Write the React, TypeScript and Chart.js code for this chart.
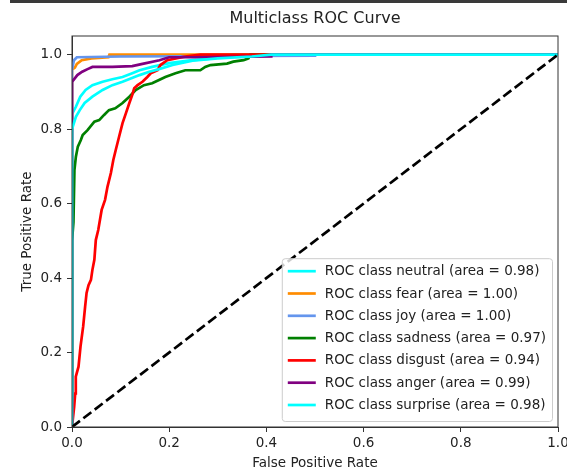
import React, { useEffect, useRef } from "react";
import { Chart, registerables } from "chart.js";

Chart.register(...registerables);

const FONT = '"DejaVu Sans", "Liberation Sans", sans-serif';

const chartTitle = "Multiclass ROC Curve";
const xAxisLabel = "False Positive Rate";
const yAxisLabel = "True Positive Rate";
const tickValues = [0, 0.2, 0.4, 0.6, 0.8, 1.0];

const classNames = ["neutral", "fear", "joy", "sadness", "disgust", "anger", "surprise"];
const classAreas = ["0.98", "1.00", "1.00", "0.97", "0.94", "0.99", "0.98"];
const classColors = ["#00FFFF", "#FF8C00", "#6495ED", "#008000", "#FF0000", "#800080", "#00FFFF"];

const neutralFpr = [0, 0, 0.008, 0.017, 0.028, 0.042, 0.063, 0.083, 0.104, 0.124, 0.139, 0.165, 0.2, 0.248, 0.29, 0.33, 1];
const neutralTpr = [0, 0.84, 0.86, 0.887, 0.905, 0.918, 0.927, 0.934, 0.94, 0.95, 0.958, 0.967, 0.977, 0.985, 0.99, 1.0, 1.0];

const fearFpr = [0, 0, 0.006, 0.01, 0.02, 0.04, 0.075, 0.077, 1];
const fearTpr = [0, 0.96, 0.965, 0.975, 0.985, 0.99, 0.993, 1.0, 1.0];

const joyFpr = [0, 0, 0.004, 0.01, 0.1, 0.5, 0.5, 1];
const joyTpr = [0, 0.96, 0.985, 0.993, 0.995, 0.997, 1.0, 1.0];

const sadnessFpr = [0, 0, 0.003, 0.005, 0.008, 0.012, 0.018, 0.022, 0.032, 0.046, 0.056, 0.066, 0.076, 0.089, 0.104, 0.118, 0.131, 0.148, 0.165, 0.179, 0.192, 0.213, 0.233, 0.264, 0.274, 0.285, 0.319, 0.332, 0.353, 0.363, 0.367, 1];
const sadnessTpr = [0, 0.5, 0.55, 0.69, 0.726, 0.753, 0.77, 0.784, 0.797, 0.82, 0.824, 0.838, 0.851, 0.856, 0.87, 0.887, 0.905, 0.918, 0.923, 0.932, 0.94, 0.95, 0.958, 0.958, 0.967, 0.972, 0.976, 0.981, 0.985, 0.99, 1.0, 1.0];

const disgustFpr = [0, 0.0045, 0.0066, 0.0078, 0.0134, 0.0175, 0.023, 0.027, 0.03, 0.034, 0.039, 0.042, 0.046, 0.049, 0.054, 0.061, 0.068, 0.073, 0.08, 0.085, 0.09, 0.097, 0.104, 0.111, 0.118, 0.124, 0.128, 0.135, 0.145, 0.155, 0.162, 0.176, 0.182, 0.196, 0.229, 0.264, 1];
const disgustTpr = [0, 0.055, 0.09, 0.135, 0.162, 0.216, 0.27, 0.323, 0.36, 0.381, 0.395, 0.422, 0.449, 0.502, 0.529, 0.583, 0.61, 0.645, 0.682, 0.717, 0.744, 0.78, 0.816, 0.843, 0.87, 0.892, 0.91, 0.918, 0.927, 0.94, 0.95, 0.958, 0.972, 0.985, 0.994, 1.0, 1.0];

const angerFpr = [0, 0, 0.011, 0.021, 0.032, 0.042, 0.083, 0.124, 0.145, 0.18, 0.2, 0.25, 0.41, 0.41, 1];
const angerTpr = [0, 0.927, 0.945, 0.954, 0.961, 0.967, 0.967, 0.969, 0.975, 0.985, 0.993, 0.993, 0.995, 1, 1];

const surpriseFpr = [0, 0, 0.008, 0.016, 0.026, 0.042, 0.063, 0.083, 0.104, 0.139, 0.159, 0.179, 0.207, 0.248, 0.3, 0.37, 0.41, 1];
const surpriseTpr = [0, 0.8, 0.833, 0.851, 0.87, 0.887, 0.905, 0.918, 0.927, 0.945, 0.954, 0.961, 0.972, 0.984, 0.99, 0.995, 1.0, 1.0];

const diagonalFpr = [0, 1];
const diagonalTpr = [0, 1];

const seriesFpr = [neutralFpr, fearFpr, joyFpr, sadnessFpr, disgustFpr, angerFpr, surpriseFpr];
const seriesTpr = [neutralTpr, fearTpr, joyTpr, sadnessTpr, disgustTpr, angerTpr, surpriseTpr];

const zip = (xs: number[], ys: number[]) => xs.map((x, i) => ({ x, y: ys[i] }));

const LABEL_SIZE = 13.5;

const decorPlugin = {
  id: "decor",
  afterDraw(chart: any) {
    const { ctx, chartArea } = chart;
    const a = chartArea;
    ctx.save();
    // spines
    ctx.strokeStyle = "#333";
    ctx.lineWidth = 1;
    ctx.strokeRect(a.left, a.top, a.right - a.left, a.bottom - a.top);

    // title & axis labels
    ctx.fillStyle = "#222";
    ctx.textAlign = "center";
    ctx.textBaseline = "middle";
    ctx.font = `16px ${FONT}`;
    const cx = (a.left + a.right) / 2;
    ctx.fillText(chartTitle, cx, 19);
    ctx.font = `${LABEL_SIZE}px ${FONT}`;
    ctx.fillText(xAxisLabel, cx, 463);
    ctx.save();
    ctx.translate(27, (a.top + a.bottom) / 2);
    ctx.rotate(-Math.PI / 2);
    ctx.fillText(yAxisLabel, 0, 0);
    ctx.restore();

    // legend
    ctx.font = `${LABEL_SIZE}px ${FONT}`;
    const labels = chart.data.datasets.filter((d: any) => d.label).map((d: any) => d.label);
    const colors = chart.data.datasets.filter((d: any) => d.label).map((d: any) => d.borderColor);
    let maxW = 0;
    labels.forEach((l: string) => (maxW = Math.max(maxW, ctx.measureText(l).width)));
    const pitch = 22.3;
    const boxRight = a.right - 6;
    const boxBottom = a.bottom - 6;
    const boxH = 13 + (labels.length - 1) * pitch + 16;
    const boxTop = boxBottom - boxH;
    const boxLeft = boxRight - (6 + 28 + 9 + maxW + 6);
    ctx.beginPath();
    if (ctx.roundRect) ctx.roundRect(boxLeft + 0.5, boxTop + 0.5, boxRight - boxLeft, boxH, 3);
    else ctx.rect(boxLeft + 0.5, boxTop + 0.5, boxRight - boxLeft, boxH);
    ctx.fillStyle = "rgba(255,255,255,0.8)";
    ctx.fill();
    ctx.strokeStyle = "#cccccc";
    ctx.lineWidth = 1;
    ctx.stroke();
    labels.forEach((l: string, i: number) => {
      const y = boxTop + 13 + i * pitch;
      ctx.beginPath();
      ctx.strokeStyle = colors[i];
      ctx.lineWidth = 2.7;
      ctx.moveTo(boxLeft + 6, y);
      ctx.lineTo(boxLeft + 34, y);
      ctx.stroke();
      ctx.fillStyle = "#222";
      ctx.textAlign = "left";
      ctx.textBaseline = "middle";
      ctx.fillText(l, boxLeft + 43, y + 0.5);
    });
    ctx.restore();
  },
};

export default function App() {
  const canvasRef = useRef<HTMLCanvasElement | null>(null);

  useEffect(() => {
    if (!canvasRef.current) return;
    const n = classNames.length + 1;
    const datasets: any[] = classNames.map((name, i) => ({
      label: `ROC class ${name} (area = ${classAreas[i]})`,
      data: zip(seriesFpr[i], seriesTpr[i]),
      borderColor: classColors[i],
      backgroundColor: classColors[i],
      borderWidth: 2.7,
      pointRadius: 0,
      tension: 0,
      fill: false,
      order: n - i,
    }));
    datasets.push({
      label: "",
      data: zip(diagonalFpr, diagonalTpr),
      borderColor: "#000000",
      borderWidth: 2.7,
      borderDash: [10, 4.3],
      pointRadius: 0,
      fill: false,
      order: 1,
    });

    const tickFont = { family: FONT, size: LABEL_SIZE };
    const chart = new Chart(canvasRef.current, {
      type: "line",
      data: { datasets },
      plugins: [decorPlugin],
      options: {
        responsive: false,
        animation: false,
        layout: { padding: { top: 36, right: 9, left: 0, bottom: 0 } },
        plugins: { legend: { display: false }, tooltip: { enabled: false }, title: { display: false } },
        scales: {
          x: {
            type: "linear",
            min: 0,
            max: 1,
            afterBuildTicks: (s: any) => { s.ticks = tickValues.map((v) => ({ value: v })); },
            afterFit: (s: any) => { s.height = 45; s.paddingLeft = 0; s.paddingRight = 0; },
            ticks: { callback: (v: any) => Number(v).toFixed(1), font: tickFont, color: "#222", padding: 3, maxRotation: 0, autoSkip: false },
            grid: { drawOnChartArea: false, tickLength: 5, color: "#333", tickWidth: 1 },
            border: { color: "#333", width: 1 },
          },
          y: {
            type: "linear",
            min: 0,
            max: 1.05,
            afterBuildTicks: (s: any) => { s.ticks = tickValues.map((v) => ({ value: v })); },
            afterFit: (s: any) => { s.width = 72; s.paddingTop = 0; s.paddingBottom = 0; },
            ticks: { callback: (v: any) => Number(v).toFixed(1), font: tickFont, color: "#222", padding: 5, autoSkip: false },
            grid: { drawOnChartArea: false, tickLength: 5, color: "#333", tickWidth: 1 },
            border: { color: "#333", width: 1 },
          },
        },
      } as any,
    });
    return () => chart.destroy();
  }, []);

  return (
    <div style={{ position: "fixed", left: 0, top: 0, width: 567, height: 472, background: "#fff" }}>
      <div style={{ position: "absolute", left: 10, top: 0, width: 557, height: 3, background: "#3a3a3a" }} />
      <canvas ref={canvasRef} width={567} height={472} style={{ display: "block", width: 567, height: 472 }} />
    </div>
  );
}
